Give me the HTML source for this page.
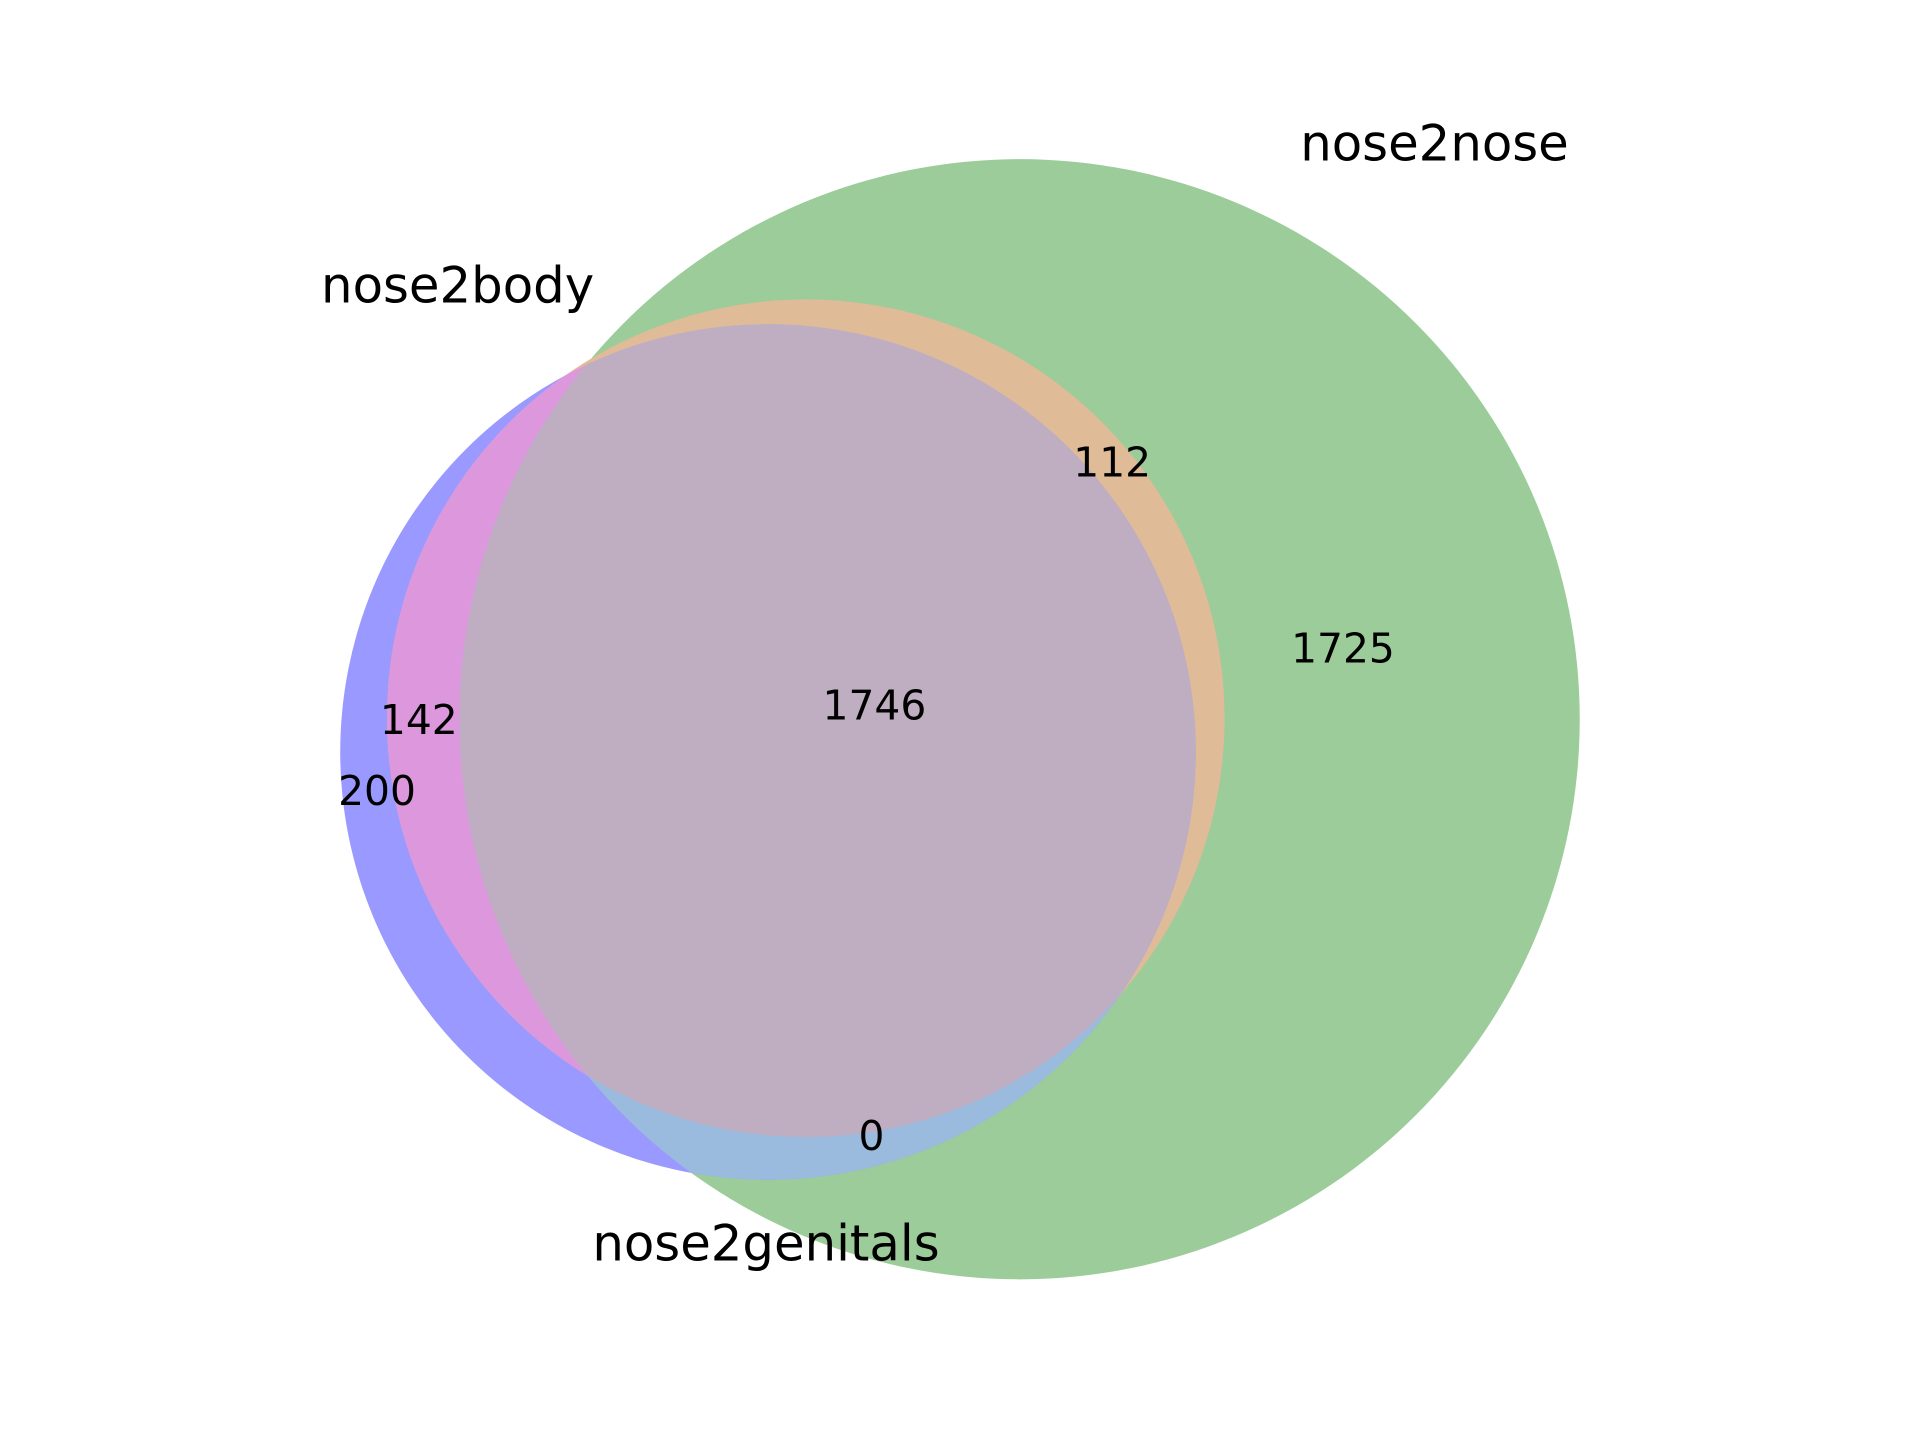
<!DOCTYPE html>
<html><head><meta charset="utf-8"><style>html,body{margin:0;padding:0;background:#fff}svg{display:block}</style></head>
<body>
<svg id="venn" width="1920" height="1440" viewBox="0 0 1920 1440" xmlns="http://www.w3.org/2000/svg" font-family="DejaVu Sans, Liberation Sans, sans-serif">
<defs>
<clipPath id="clipC"><circle cx="772" cy="756" r="430"/></clipPath>
<clipPath id="clipB"><circle cx="1025" cy="723" r="563"/></clipPath>
</defs>
<g transform="scale(0.9948)">
<circle cx="1025" cy="723" r="563" fill="#9bcc99"/>
<circle cx="772" cy="756" r="430" fill="#9999ff"/>
<circle cx="810" cy="722" r="421" fill="#dfbb98"/>
<circle cx="810" cy="722" r="421" fill="#dd98dd" clip-path="url(#clipC)"/>
<g clip-path="url(#clipB)">
<circle cx="772" cy="756" r="430" fill="#9abbdd"/>
<circle cx="810" cy="722" r="421" fill="#bfadc1" clip-path="url(#clipC)"/>
</g>
<g id="labels" font-size="41" text-anchor="middle" dominant-baseline="central" fill="#000"></g>
<g id="setlabels" font-size="50" text-anchor="middle" dominant-baseline="central" fill="#000"></g>
</g>
</svg>
<script>
const regionNames = ['nose2body-nose2nose', 'nose2nose-only', 'all-three', 'nose2body-nose2genitals', 'nose2genitals-only', 'nose2nose-nose2genitals'];
const regionValues = [112, 1725, 1746, 142, 200, 0];
const regionAnchors = [[1118,465],[1350,652],[879,709],[421,724],[379,795],[876,1142]];
const setNames = ['nose2body', 'nose2genitals', 'nose2nose'];
const setAnchors = [[460,287],[770,1250],[1442,144]];
const NS = 'http://www.w3.org/2000/svg';
const g = document.getElementById('labels');
regionValues.forEach((v, i) => {
  const t = document.createElementNS(NS, 'text');
  t.setAttribute('x', regionAnchors[i][0]);
  t.setAttribute('y', regionAnchors[i][1]);
  t.textContent = String(v);
  
  
  g.appendChild(t);
});
const g2 = document.getElementById('setlabels');
setNames.forEach((n, i) => {
  const t = document.createElementNS(NS, 'text');
  t.setAttribute('x', setAnchors[i][0]);
  t.setAttribute('y', setAnchors[i][1]);
  t.textContent = n;
  
  
  g2.appendChild(t);
});
</script>
</body></html>
